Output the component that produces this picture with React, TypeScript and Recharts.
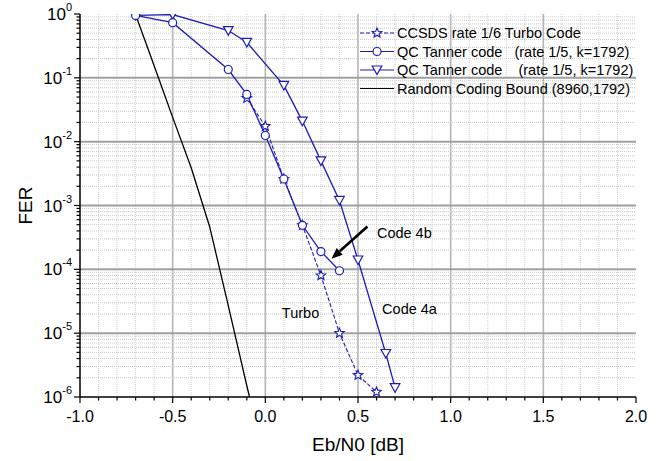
import React from 'react';
import { LineChart, Line, XAxis, YAxis, ReferenceLine, ReferenceDot, Legend } from 'recharts';

const FONT = '"Liberation Sans", Arial, Helvetica, sans-serif';
const BLUE = '#1c1cb8';

// axis ticks
const xMajorTicks = [-1.0, -0.5, 0.0, 0.5, 1.0, 1.5, 2.0];
const xMinorTicks = [
  -0.9, -0.8, -0.7, -0.6, -0.4, -0.3, -0.2, -0.1, 0.1, 0.2, 0.3, 0.4,
  0.6, 0.7, 0.8, 0.9, 1.1, 1.2, 1.3, 1.4, 1.6, 1.7, 1.8, 1.9,
];
const yMajorTicks = [1e-6, 1e-5, 1e-4, 1e-3, 1e-2, 1e-1, 1];
const yMinorSteps = [2, 3, 4, 5, 6, 7, 8, 9];

// CCSDS rate 1/6 Turbo Code
const turboEbN0 = [-0.1, 0.0, 0.1, 0.2, 0.3, 0.4, 0.5, 0.6];
const turboFer = [0.048, 0.0175, 0.0026, 4.9e-4, 8e-5, 1.0e-5, 2.2e-6, 1.2e-6];

// QC Tanner code 4b
const code4bEbN0 = [-0.7, -0.5, -0.2, -0.1, 0.0, 0.1, 0.2, 0.3, 0.4];
const code4bFer = [0.95, 0.73, 0.135, 0.055, 0.0125, 0.0026, 4.9e-4, 1.9e-4, 9.5e-5];

// QC Tanner code 4a
const code4aEbN0 = [-0.7, -0.5, -0.2, -0.1, 0.1, 0.2, 0.3, 0.4, 0.5, 0.65, 0.7];
const code4aFer = [0.95, 0.98, 0.55, 0.36, 0.076, 0.021, 0.005, 0.0012, 1.4e-4, 4.8e-6, 1.4e-6];

// Random Coding Bound (8960,1792)
const boundEbN0 = [-0.7, -0.6, -0.5, -0.4, -0.3, -0.2, -0.1, -0.085];
const boundFer = [0.97, 0.155, 0.024, 0.0039, 4.6e-4, 2.7e-5, 1.5e-6, 1e-6];

const toPoints = (xs: number[], ys: number[]) => xs.map((x, i) => ({ x, y: ys[i] }));
const turboData = toPoints(turboEbN0, turboFer);
const code4bData = toPoints(code4bEbN0, code4bFer);
const code4aData = toPoints(code4aEbN0, code4aFer);
const boundData = toPoints(boundEbN0, boundFer);

const xTicks = [...xMajorTicks, ...xMinorTicks].sort((a, b) => a - b);
const yMinorTicks = yMajorTicks.slice(0, -1).flatMap((d) => yMinorSteps.map((m) => d * m));
const yTicks = [...yMajorTicks, ...yMinorTicks].sort((a, b) => a - b);

function Marker({ kind, cx, cy }: { kind: string; cx: number; cy: number }) {
  if (kind === 'circle') {
    return <circle cx={cx} cy={cy} r={4} fill="#fff" stroke={BLUE} strokeWidth={1.2} />;
  }
  if (kind === 'triangle') {
    const pts = `${cx - 4.8},${cy - 4} ${cx + 4.8},${cy - 4} ${cx},${cy + 4.6}`;
    return <polygon points={pts} fill="#fff" stroke={BLUE} strokeWidth={1.2} />;
  }
  if (kind === 'star') {
    const pts: string[] = [];
    for (let i = 0; i < 10; i++) {
      const r = i % 2 === 0 ? 5 : 2.2;
      const a = -Math.PI / 2 + (i * Math.PI) / 5;
      pts.push(`${cx + r * Math.cos(a)},${cy + r * Math.sin(a)}`);
    }
    return <polygon points={pts.join(' ')} fill="#fff" stroke={BLUE} strokeWidth={1.1} />;
  }
  return null;
}

const dotOf = (kind: string) => (p: any) => (
  <Marker key={`${kind}-${p.index}`} kind={kind} cx={p.cx} cy={p.cy} />
);

function BottomTick({ x, y, payload }: any) {
  const major = xMajorTicks.includes(payload.value);
  return (
    <g>
      <line x1={x} y1={y} x2={x} y2={y + (major ? 6 : 3.5)} stroke="#000" strokeWidth={1.2} />
      {major && (
        <text x={x} y={y + 25} textAnchor="middle" fontSize={16} fontFamily={FONT} fill="#000">
          {payload.value.toFixed(1)}
        </text>
      )}
    </g>
  );
}

function TopTick({ x, y, payload }: any) {
  const major = xMajorTicks.includes(payload.value);
  return <line x1={x} y1={y} x2={x} y2={y + (major ? 6 : 3.5)} stroke="#000" strokeWidth={1.2} />;
}

function LeftTick({ x, y, payload }: any) {
  const major = yMajorTicks.includes(payload.value);
  const exp = Math.round(Math.log10(payload.value));
  return (
    <g>
      <line x1={x - (major ? 6 : 3.5)} y1={y} x2={x} y2={y} stroke="#000" strokeWidth={1.2} />
      {major && (
        <text x={x - 8} y={y + 6} textAnchor="end" fontSize={17} fontFamily={FONT} fill="#000">
          <tspan>10</tspan>
          <tspan dy={-9} fontSize={11}>{String(exp)}</tspan>
        </text>
      )}
    </g>
  );
}

function RightTick({ x, y, payload }: any) {
  const major = yMajorTicks.includes(payload.value);
  return <line x1={x - (major ? 6 : 3.5)} y1={y} x2={x} y2={y} stroke="#000" strokeWidth={1.2} />;
}

const legendRows = [
  { name: 'CCSDS rate 1/6 Turbo Code', kind: 'star', color: BLUE, dash: '4 2' },
  { name: 'QC Tanner code   (rate 1/5, k=1792)', kind: 'circle', color: BLUE, dash: undefined },
  { name: 'QC Tanner code    (rate 1/5, k=1792)', kind: 'triangle', color: BLUE, dash: undefined },
  { name: 'Random Coding Bound (8960,1792)', kind: 'none', color: '#000', dash: undefined },
];

function LegendBox() {
  return (
    <svg width={285} height={76} style={{ display: 'block' }}>
      {legendRows.map((r, i) => {
        const cy = 9 + i * 18.5;
        return (
          <g key={r.name}>
            <line x1={2} y1={cy} x2={36} y2={cy} stroke={r.color} strokeWidth={1.2} strokeDasharray={r.dash} />
            <Marker kind={r.kind} cx={19} cy={cy} />
            <text x={39} y={cy + 5} fontSize={14.5} fontFamily={FONT} fill="#000" style={{ whiteSpace: 'pre' }}>
              {r.name}
            </text>
          </g>
        );
      })}
    </svg>
  );
}

function Arrow({ x1, y1, x2, y2 }: any) {
  const ang = Math.atan2(y2 - y1, x2 - x1);
  const len = 11;
  const w = 4.5;
  const bx = x2 - len * Math.cos(ang);
  const by = y2 - len * Math.sin(ang);
  const p1 = `${bx + w * Math.sin(ang)},${by - w * Math.cos(ang)}`;
  const p2 = `${bx - w * Math.sin(ang)},${by + w * Math.cos(ang)}`;
  return (
    <g>
      <line x1={x1} y1={y1} x2={bx} y2={by} stroke="#000" strokeWidth={2.6} />
      <polygon points={`${x2},${y2} ${p1} ${p2}`} fill="#000" />
    </g>
  );
}

const textAt = (label: string) => (p: any) => (
  <text x={p.cx} y={p.cy + 5} textAnchor="middle" fontSize={14.5} fontFamily={FONT} fill="#000">
    {label}
  </text>
);

export default function App() {
  return (
    <div style={{ position: 'absolute', left: 0, top: 0, background: '#fff' }}>
      <LineChart width={659} height={461} margin={{ top: 14, right: 23, bottom: 0, left: 0 }}>
        <XAxis
          xAxisId={0}
          dataKey="x"
          type="number"
          domain={[-1, 2]}
          ticks={xTicks}
          interval={0}
          height={64}
          tickSize={0}
          tickMargin={0}
          tickLine={false}
          tick={<BottomTick />}
          axisLine={{ stroke: '#000', strokeWidth: 1.5 }}
          allowDataOverflow
          label={(p: any) => (
            <text x={p.viewBox.x + p.viewBox.width / 2} y={p.viewBox.y + 54} textAnchor="middle" fontSize={19} fontFamily={FONT} fill="#000">
              Eb/N0 [dB]
            </text>
          )}
        />
        <XAxis
          xAxisId="top"
          orientation="top"
          dataKey="x"
          type="number"
          domain={[-1, 2]}
          ticks={xTicks}
          interval={0}
          height={0}
          tickSize={0}
          tickMargin={0}
          tickLine={false}
          tick={<TopTick />}
          axisLine={{ stroke: '#000', strokeWidth: 1.5 }}
          allowDataOverflow
        />
        <YAxis
          yAxisId={0}
          type="number"
          scale="log"
          domain={[1e-6, 1]}
          ticks={yTicks}
          interval={0}
          width={80}
          tickSize={0}
          tickMargin={0}
          tickLine={false}
          tick={<LeftTick />}
          axisLine={{ stroke: '#000', strokeWidth: 1.5 }}
          allowDataOverflow
          label={(p: any) => (
            <text
              transform={`translate(${p.viewBox.x + 32}, ${p.viewBox.y + p.viewBox.height / 2}) rotate(-90)`}
              textAnchor="middle"
              fontSize={19}
              fontFamily={FONT}
              fill="#000"
            >
              FER
            </text>
          )}
        />
        <YAxis
          yAxisId="right"
          orientation="right"
          type="number"
          scale="log"
          domain={[1e-6, 1]}
          ticks={yTicks}
          interval={0}
          width={0}
          tickSize={0}
          tickMargin={0}
          tickLine={false}
          tick={<RightTick />}
          axisLine={{ stroke: '#000', strokeWidth: 1.5 }}
          allowDataOverflow
        />

        {xTicks
          .filter((v) => v > -1 && v < 2)
          .map((v) => (
            <ReferenceLine
              key={`vx${v}`}
              x={v}
              stroke={xMajorTicks.includes(v) ? '#b4b4b4' : '#cfcfcf'}
              strokeWidth={xMajorTicks.includes(v) ? 1.6 : 1}
              strokeDasharray={xMajorTicks.includes(v) ? undefined : '1 1'}
            />
          ))}
        {yTicks
          .filter((v) => v > 1e-6 && v < 1)
          .map((v) => (
            <ReferenceLine
              key={`hy${v}`}
              y={v}
              stroke={yMajorTicks.includes(v) ? '#a0a0a0' : '#c8c8c8'}
              strokeWidth={yMajorTicks.includes(v) ? 2 : 1}
              strokeDasharray={yMajorTicks.includes(v) ? undefined : '1 1'}
            />
          ))}

        <Line
          data={boundData}
          dataKey="y"
          type="linear"
          stroke="#000"
          strokeWidth={1.3}
          dot={false}
          isAnimationActive={false}
        />
        <Line
          data={code4aData}
          dataKey="y"
          type="linear"
          stroke={BLUE}
          strokeWidth={1.3}
          dot={dotOf('triangle')}
          isAnimationActive={false}
        />
        <Line
          data={turboData}
          dataKey="y"
          type="linear"
          stroke={BLUE}
          strokeWidth={1.1}
          strokeDasharray="4 2"
          dot={dotOf('star')}
          isAnimationActive={false}
        />
        <Line
          data={code4bData}
          dataKey="y"
          type="linear"
          stroke={BLUE}
          strokeWidth={1.3}
          dot={dotOf('circle')}
          isAnimationActive={false}
        />

        <ReferenceLine
          segment={[
            { x: 0.551, y: 4.7e-4 },
            { x: 0.357, y: 1.47e-4 },
          ]}
          shape={<Arrow />}
        />
        <ReferenceDot x={0.75} y={3.7e-4} r={0} shape={textAt('Code 4b')} />
        <ReferenceDot x={0.19} y={2.1e-5} r={0} shape={textAt('Turbo')} />
        <ReferenceDot x={0.778} y={2.4e-5} r={0} shape={textAt('Code 4a')} />

        <Legend
          layout="vertical"
          align="center"
          verticalAlign="middle"
          content={<LegendBox />}
          wrapperStyle={{ left: 358, top: 24, width: 285, height: 76 }}
        />
      </LineChart>
    </div>
  );
}
